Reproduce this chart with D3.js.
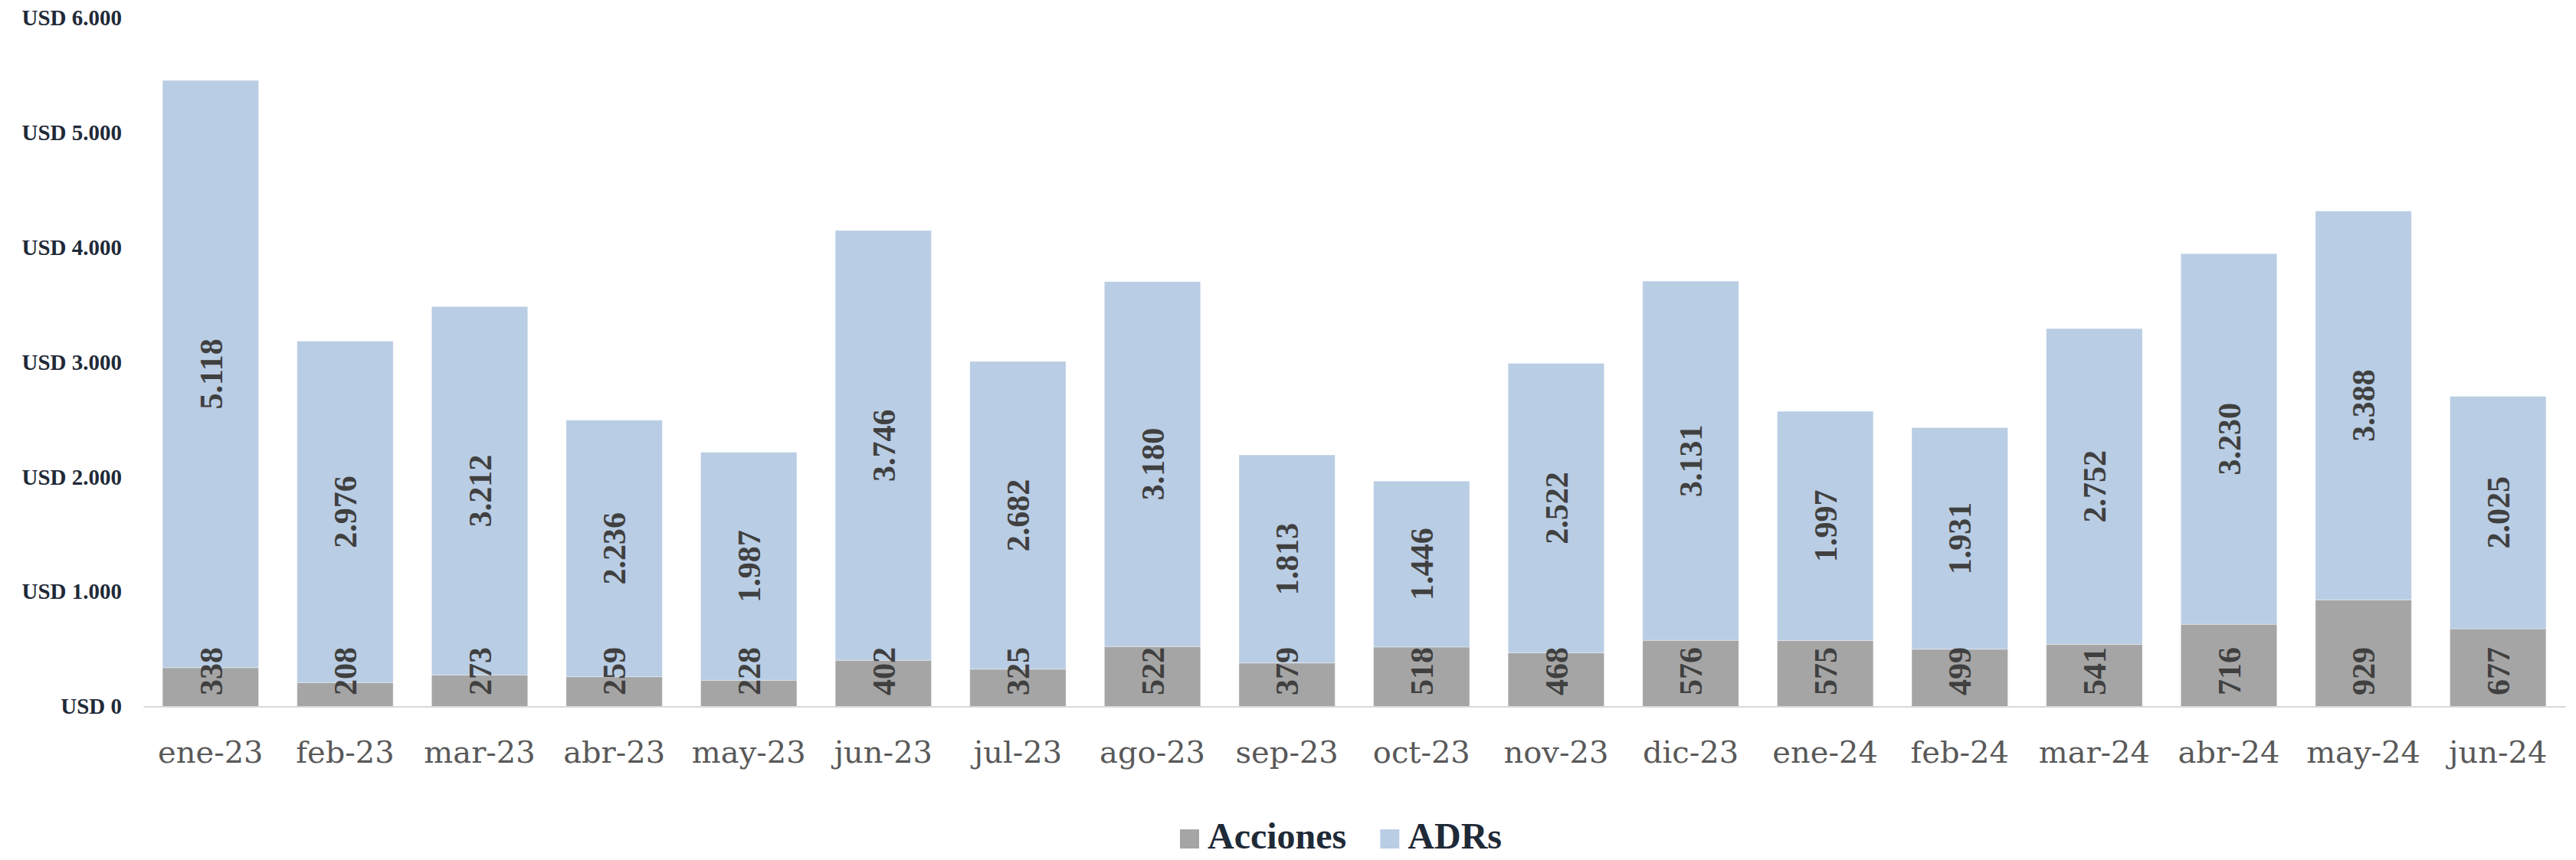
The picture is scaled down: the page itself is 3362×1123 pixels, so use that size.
<!DOCTYPE html>
<html>
<head>
<meta charset="utf-8">
<script src="https://cdn.jsdelivr.net/npm/d3@7"></script>
<style>
  body { margin: 0; background: #fff; }
  svg { display: block; }
</style>
</head>
<body>
<svg id="chart" width="3362" height="1123"></svg>
<script>
let months = ["ene-23","feb-23","mar-23","abr-23","may-23","jun-23","jul-23","ago-23","sep-23","oct-23","nov-23","dic-23","ene-24","feb-24","mar-24","abr-24","may-24","jun-24"];
let acciones = [338, 208, 273, 259, 228, 402, 325, 522, 379, 518, 468, 576, 575, 499, 541, 716, 929, 677];
let adrs = [5118, 2976, 3212, 2236, 1987, 3746, 2682, 3180, 1813, 1446, 2522, 3131, 1997, 1931, 2752, 3230, 3388, 2025];
let yTicks = [0, 1000, 2000, 3000, 4000, 5000, 6000];
let seriesNames = ["Acciones", "ADRs"];

let colors = { "Acciones": "#a5a5a5", "ADRs": "#b9cde4" };
let serif = "'Liberation Serif', 'DejaVu Serif', serif";
let fmt = (v) => v.toLocaleString("de-DE");

let svg = d3.select("#chart");

let x = d3.scaleBand()
  .domain(months)
  .range([187, 3348])
  .paddingInner(0.286)
  .paddingOuter(0.143);

let y = d3.scaleLinear()
  .domain([0, 6000])
  .range([922.5, 23.5]);

let rows = months.map((m, i) => ({ month: m, Acciones: acciones[i], ADRs: adrs[i] }));
let stacked = d3.stack().keys(seriesNames)(rows);

// y axis labels (no line, no ticks)
let yAxis = svg.append("g")
  .attr("transform", "translate(172,0)")
  .call(d3.axisLeft(y).tickValues(yTicks).tickSize(0).tickPadding(13).tickFormat((d) => "USD " + fmt(d)));
yAxis.select(".domain").remove();
yAxis.selectAll("text")
  .attr("font-family", serif)
  .attr("font-weight", "bold")
  .attr("font-size", 29)
  .attr("fill", "#1f2a38");

// bars
let layers = svg.selectAll("g.layer")
  .data(stacked)
  .enter()
  .append("g")
  .attr("class", "layer")
  .attr("fill", (s) => colors[s.key]);

layers.selectAll("rect")
  .data((s) => s)
  .enter()
  .append("rect")
  .attr("x", (d) => x(d.data.month))
  .attr("width", x.bandwidth())
  .attr("y", (d) => y(d[1]))
  .attr("height", (d) => y(d[0]) - y(d[1]))
  .attr("stroke", "#ffffff")
  .attr("stroke-opacity", 0.35)
  .attr("stroke-width", 1);

// x axis
let xAxis = svg.append("g")
  .attr("transform", "translate(0," + y(0) + ")")
  .call(d3.axisBottom(x).tickSize(0).tickPadding(45));
xAxis.select(".domain")
  .attr("stroke", "#d9d9d9")
  .attr("stroke-width", 2);
xAxis.selectAll("text")
  .attr("font-family", "'DejaVu Serif', serif")
  .attr("font-size", 40)
  .attr("fill", "#595959");

// value labels
let labelLayer = svg.append("g")
  .attr("font-family", serif)
  .attr("font-weight", "bold")
  .attr("font-size", 42)
  .attr("fill", "#404040")
  .attr("text-anchor", "middle");

stacked.forEach((s) => {
  labelLayer.selectAll(null)
    .data(s)
    .enter()
    .append("text")
    .attr("transform", (d) => {
      let cx = x(d.data.month) + x.bandwidth() / 2;
      let cy = s.key === "ADRs" ? (y(d[0]) + y(d[1])) / 2 : y(0) - 46;
      return "translate(" + cx + "," + cy + ") rotate(-90)";
    })
    .attr("dy", "0.35em")
    .text((d) => fmt(d[1] - d[0]));
});

// legend
let legend = svg.append("g").attr("transform", "translate(1540,1108)");
let lx = 0;
seriesNames.forEach((name) => {
  let item = legend.append("g").attr("transform", "translate(" + lx + ",0)");
  item.append("rect")
    .attr("x", 0)
    .attr("y", -25)
    .attr("width", 25)
    .attr("height", 25)
    .attr("fill", colors[name]);
  let t = item.append("text")
    .attr("x", 36)
    .attr("y", 0)
    .attr("font-family", serif)
    .attr("font-weight", "bold")
    .attr("font-size", 48)
    .attr("fill", "#1f2a38")
    .text(name);
  lx += 36 + t.node().getComputedTextLength() + 44;
});
</script>
</body>
</html>
